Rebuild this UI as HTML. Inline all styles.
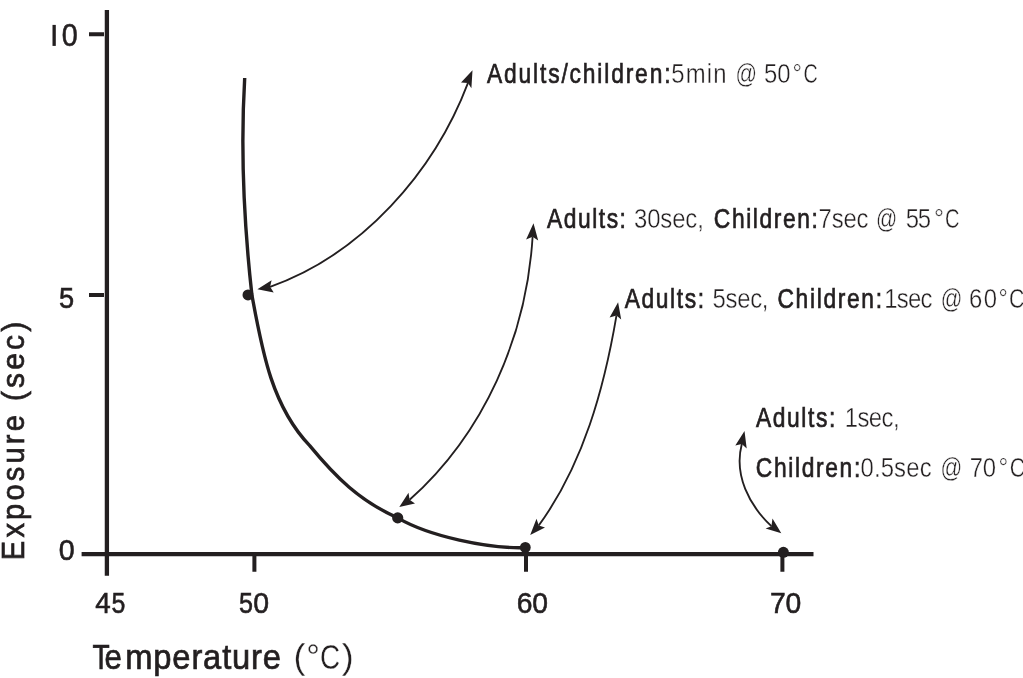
<!DOCTYPE html>
<html><head><meta charset="utf-8"><style>
html,body{margin:0;padding:0;background:#fff;width:1023px;height:678px;overflow:hidden}
svg{display:block;position:absolute;left:0;top:0;will-change:transform}
text{font-family:"Liberation Sans",sans-serif;fill:#231f20;font-kerning:none}
</style></head><body>
<svg width="1023" height="678" viewBox="0 0 1023 678">
<rect x="52.5" y="24.9" width="3.3" height="21" fill="#231f20"/>
<text transform="translate(61.78,45.80) scale(0.931,1)" font-size="30.80" style="stroke:#231f20;stroke-width:0.6">0</text>
<text transform="translate(59.01,307.70) scale(0.913,1)" font-size="29.80" style="stroke:#231f20;stroke-width:0.6">5</text>
<text transform="translate(58.78,560.20) scale(0.962,1)" font-size="29.80" style="stroke:#231f20;stroke-width:0.6">0</text>
<text transform="translate(95.26,612.90) scale(0.932,1)" font-size="29.80" style="stroke:#231f20;stroke-width:0.6">4</text>
<text transform="translate(111.50,612.90) scale(0.835,1)" font-size="29.80" style="stroke:#231f20;stroke-width:0.6">5</text>
<text transform="translate(238.90,612.60) scale(0.842,1)" font-size="29.80" style="stroke:#231f20;stroke-width:0.6">5</text>
<text transform="translate(253.29,612.60) scale(0.955,1)" font-size="29.80" style="stroke:#231f20;stroke-width:0.6">0</text>
<text transform="translate(516.86,612.60) scale(0.950,1)" font-size="29.80" letter-spacing="-0.469" style="stroke:#231f20;stroke-width:0.6">60</text>
<text transform="translate(769.95,612.60) scale(0.950,1)" font-size="29.80" letter-spacing="-0.139" style="stroke:#231f20;stroke-width:0.6">70</text>
<text transform="translate(92.47,669.30) scale(0.799,1)" font-size="35.20" style="stroke:#231f20;stroke-width:0.7">T</text>
<text transform="translate(104.48,669.30) scale(0.884,1)" font-size="35.20" style="stroke:#231f20;stroke-width:0.7">e</text>
<text transform="translate(125.23,669.30) scale(0.930,1)" font-size="35.20" letter-spacing="0.891" style="stroke:#231f20;stroke-width:0.7">mperature</text>
<text transform="translate(293.58,669.30) scale(1.018,1)" font-size="35.20" style="stroke:#fff;stroke-width:0.3">(</text>
<text transform="translate(306.16,669.30) scale(0.973,1)" font-size="35.20" style="stroke:#fff;stroke-width:0.3">°</text>
<text transform="translate(319.99,669.30) scale(0.790,1)" font-size="35.20" style="stroke:#fff;stroke-width:0.3">C</text>
<text transform="translate(341.79,669.30) scale(1.018,1)" font-size="35.20" style="stroke:#fff;stroke-width:0.3">)</text>
<text transform="translate(24.4,560) rotate(-90) translate(-0.18,0.00) scale(0.920,1)" font-size="31.60" letter-spacing="3.456" style="stroke:#231f20;stroke-width:0.7">Exposure</text>
<text transform="translate(24.4,560) rotate(-90) translate(158.94,0.00) scale(0.950,1)" font-size="31.60" letter-spacing="3.319" style="stroke:#231f20;stroke-width:0.7">(sec)</text>
<text transform="translate(486.96,82.60) scale(0.820,1)" font-size="27.80" letter-spacing="2.258" style="stroke:#231f20;stroke-width:0.7">Adults/children:</text>
<text transform="translate(671.34,82.60) scale(0.860,1)" font-size="27.80" letter-spacing="1.353" style="stroke:#fff;stroke-width:0.4">5min</text>
<text transform="translate(735.54,82.60) scale(0.762,1)" font-size="27.80" style="stroke:#fff;stroke-width:0.4">@</text>
<text transform="translate(764.04,82.60) scale(0.860,1)" font-size="27.80" letter-spacing="-0.118" style="stroke:#fff;stroke-width:0.4">50</text>
<text transform="translate(792.60,82.60) scale(0.847,1)" font-size="27.80" style="stroke:#fff;stroke-width:0.4">°</text>
<text transform="translate(803.50,82.60) scale(0.710,1)" font-size="27.80" style="stroke:#fff;stroke-width:0.4">C</text>
<text transform="translate(546.96,227.60) scale(0.820,1)" font-size="27.80" letter-spacing="1.897" style="stroke:#231f20;stroke-width:0.7">Adults:</text>
<text transform="translate(633.99,227.60) scale(0.860,1)" font-size="27.80" letter-spacing="-0.135" style="stroke:#fff;stroke-width:0.4">30sec,</text>
<text transform="translate(713.84,227.60) scale(0.820,1)" font-size="27.80" letter-spacing="1.968" style="stroke:#231f20;stroke-width:0.7">Children:</text>
<text transform="translate(818.57,227.60) scale(0.860,1)" font-size="27.80" letter-spacing="-0.211" style="stroke:#fff;stroke-width:0.4">7sec</text>
<text transform="translate(875.95,227.60) scale(0.753,1)" font-size="27.80" style="stroke:#fff;stroke-width:0.4">@</text>
<text transform="translate(905.64,227.60) scale(0.860,1)" font-size="27.80" letter-spacing="-1.432" style="stroke:#fff;stroke-width:0.4">55</text>
<text transform="translate(934.01,227.60) scale(0.898,1)" font-size="27.80" style="stroke:#fff;stroke-width:0.4">°</text>
<text transform="translate(945.08,227.60) scale(0.721,1)" font-size="27.80" style="stroke:#fff;stroke-width:0.4">C</text>
<text transform="translate(624.66,307.80) scale(0.820,1)" font-size="27.80" letter-spacing="1.999" style="stroke:#231f20;stroke-width:0.7">Adults:</text>
<text transform="translate(712.54,307.80) scale(0.860,1)" font-size="27.80" letter-spacing="-0.360" style="stroke:#fff;stroke-width:0.4">5sec,</text>
<text transform="translate(777.44,307.80) scale(0.820,1)" font-size="27.80" letter-spacing="2.044" style="stroke:#231f20;stroke-width:0.7">Children:</text>
<text transform="translate(884.28,307.80) scale(0.860,1)" font-size="27.80" letter-spacing="-0.872" style="stroke:#fff;stroke-width:0.4">1sec</text>
<text transform="translate(940.73,307.80) scale(0.766,1)" font-size="27.80" style="stroke:#fff;stroke-width:0.4">@</text>
<text transform="translate(968.89,307.80) scale(0.860,1)" font-size="27.80" letter-spacing="1.692" style="stroke:#fff;stroke-width:0.4">60</text>
<text transform="translate(998.52,307.80) scale(0.834,1)" font-size="27.80" style="stroke:#fff;stroke-width:0.4">°</text>
<text transform="translate(1009.12,307.80) scale(0.767,1)" font-size="27.80" style="stroke:#fff;stroke-width:0.4">C</text>
<text transform="translate(755.96,426.70) scale(0.820,1)" font-size="27.80" letter-spacing="1.979" style="stroke:#231f20;stroke-width:0.7">Adults:</text>
<text transform="translate(844.68,426.70) scale(0.860,1)" font-size="27.80" letter-spacing="-0.632" style="stroke:#fff;stroke-width:0.4">1sec,</text>
<text transform="translate(755.84,476.80) scale(0.820,1)" font-size="27.80" letter-spacing="2.014" style="stroke:#231f20;stroke-width:0.7">Children:</text>
<text transform="translate(860.47,476.80) scale(0.860,1)" font-size="27.80" letter-spacing="0.168" style="stroke:#fff;stroke-width:0.4">0.5sec</text>
<text transform="translate(940.52,476.80) scale(0.770,1)" font-size="27.80" style="stroke:#fff;stroke-width:0.4">@</text>
<text transform="translate(969.77,476.80) scale(0.860,1)" font-size="27.80" letter-spacing="-0.271" style="stroke:#fff;stroke-width:0.4">70</text>
<text transform="translate(998.45,476.80) scale(0.873,1)" font-size="27.80" style="stroke:#fff;stroke-width:0.4">°</text>
<text transform="translate(1009.72,476.80) scale(0.767,1)" font-size="27.80" style="stroke:#fff;stroke-width:0.4">C</text>
<g stroke="#231f20" fill="none">
<path d="M106.9,10V575.8M81.6,554.2H813.5" stroke-width="4.3"/>
<path d="M89,34.2H104M89,294.9H104M254.4,555V571.7M526,555V571.7M782.4,555V571.7" stroke-width="4"/>
<path d="M244.7,78.0 C240.4,150.3 243.9,223.0 251.9,295.0 C261.7,347.7 271.0,405.2 309.7,445.6 C335.8,477.3 359.5,500.7 397.7,517.9 C428.9,536.3 488.4,548.9 525.3,547.6" stroke-width="3.4"/>
<path d="M270.1,286.8 C361.8,254.4 434.2,172.1 468.0,82.9" stroke-width="1.85"/>
<path d="M532.6,236.7 C526.6,336.2 484.3,433.0 409.6,499.8" stroke-width="1.85"/>
<path d="M616.5,315.4 C604.1,388.6 583.2,464.6 538.8,525.4" stroke-width="1.85"/>
<path d="M741.8,443.9 C733.7,475.1 749.1,505.2 771.4,526.2" stroke-width="1.85"/>
</g>
<g fill="#231f20">
<circle cx="248.0" cy="294.9" r="5.5"/>
<circle cx="397.7" cy="517.9" r="5.6"/>
<circle cx="525.3" cy="547.4" r="5.4"/>
<circle cx="783.4" cy="552.3" r="5.5"/>
<polygon points="257.4,289.2 271.6,280.3 270.1,286.8 273.7,292.4"/>
<polygon points="472.5,70.2 461.0,82.6 468.0,82.9 471.4,88.2"/>
<polygon points="533.5,223.2 526.1,239.6 532.6,236.7 538.2,240.5"/>
<polygon points="399.3,506.9 408.5,492.7 409.6,499.8 415.0,503.4"/>
<polygon points="618.1,302.3 609.6,317.6 616.5,315.4 621.2,319.4"/>
<polygon points="530.2,535.0 536.5,518.8 538.8,525.4 545.0,527.6"/>
<polygon points="744.5,430.9 735.3,445.6 741.8,443.9 746.7,448.6"/>
<polygon points="781.3,533.2 765.6,528.4 771.4,526.2 772.5,518.4"/>
</g>
</svg>
</body></html>
